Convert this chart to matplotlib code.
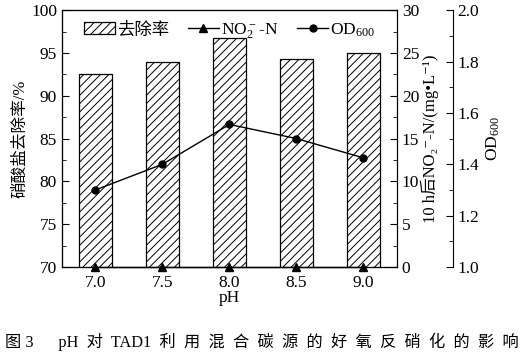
import matplotlib
matplotlib.use('Agg')
import matplotlib.pyplot as plt
from matplotlib.ticker import MultipleLocator, FormatStrFormatter

plt.rcParams['font.family'] = ['Liberation Serif', 'DejaVu Serif', 'Noto Sans CJK SC']
plt.rcParams['mathtext.fontset'] = 'custom'
plt.rcParams['mathtext.rm'] = 'Liberation Serif'
plt.rcParams['mathtext.default'] = 'regular'
plt.rcParams['hatch.linewidth'] = 0.7
plt.rcParams['font.size'] = 12.5

ph = ['7.0', '7.5', '8.0', '8.5', '9.0']
removal = [92.5, 94.0, 96.8, 94.3, 95.0]
nitrite = [0, 0, 0, 0, 0]
od600 = [1.30, 1.40, 1.555, 1.50, 1.425]

fig = plt.figure(figsize=(5.25, 3.63), dpi=100)
ax = fig.add_axes([0.118, 0.2645, 0.638, 0.7075])
x = list(range(len(ph)))

bars = ax.bar(x, removal, width=0.5, color='white', edgecolor='black',
              hatch='////', linewidth=0.9, label='去除率')
ax.set_xlim(-0.5, 4.5)
ax.set_ylim(70, 100)
ax.set_xticks(x)
ax.set_xticklabels(ph)
ax.tick_params(axis='x', length=0, pad=6)
ax.yaxis.set_major_locator(MultipleLocator(5))
ax.yaxis.set_minor_locator(MultipleLocator(2.5))
ax.tick_params(axis='y', which='both', direction='in')
ax.tick_params(axis='y', which='major', length=5)
ax.tick_params(axis='y', which='minor', length=3)
ax.set_xlabel('pH', labelpad=-1)
ax.set_ylabel('硝酸盐去除率/%', labelpad=2, fontsize=12)

ax2 = ax.twinx()
l1, = ax2.plot(x, nitrite, color='black', marker='^', markersize=6,
               linewidth=1, clip_on=False, zorder=5, label='NO$_2^-$-N')
ax2.set_ylim(0, 30)
ax2.yaxis.set_major_locator(MultipleLocator(5))
ax2.yaxis.set_minor_locator(MultipleLocator(2.5))
ax2.tick_params(axis='y', which='both', direction='in')
ax2.tick_params(axis='y', which='major', length=5)
ax2.tick_params(axis='y', which='minor', length=3)
ax2.set_ylabel('10 h后NO₂⁻-N/(mg•L⁻¹)', labelpad=1, fontsize=12)

ax3 = ax.twinx()
ax3.spines['right'].set_position(('axes', 1.167))
l2, = ax3.plot(x, od600, color='black', marker='o', markersize=5,
               linewidth=1, label='OD$_{600}$')
ax3.set_ylim(1.0, 2.0)
ax3.yaxis.set_major_locator(MultipleLocator(0.2))
ax3.yaxis.set_minor_locator(MultipleLocator(0.1))
ax3.yaxis.set_major_formatter(FormatStrFormatter('%.1f'))
ax3.tick_params(axis='y', which='both', direction='in')
ax3.tick_params(axis='y', which='major', length=5)
ax3.tick_params(axis='y', which='minor', length=3)
ax3.set_ylabel('OD$_{600}$', labelpad=4)

ax3.legend([bars, l1, l2], ['去除率', 'NO$_2^-$-N', 'OD$_{600}$'],
           loc='upper center', bbox_to_anchor=(0.5, 1.0), ncol=3,
           frameon=False, handlelength=1.8, handletextpad=0.1,
           columnspacing=1.1, borderaxespad=0.25)

fig.text(0.01, 0.045,
         '图 3      pH  对  TAD1  利  用  混  合  碳  源  的  好  氧  反  硝  化  的  影  响',
         fontsize=11.7, ha='left')

plt.savefig('out.png', dpi=100)
